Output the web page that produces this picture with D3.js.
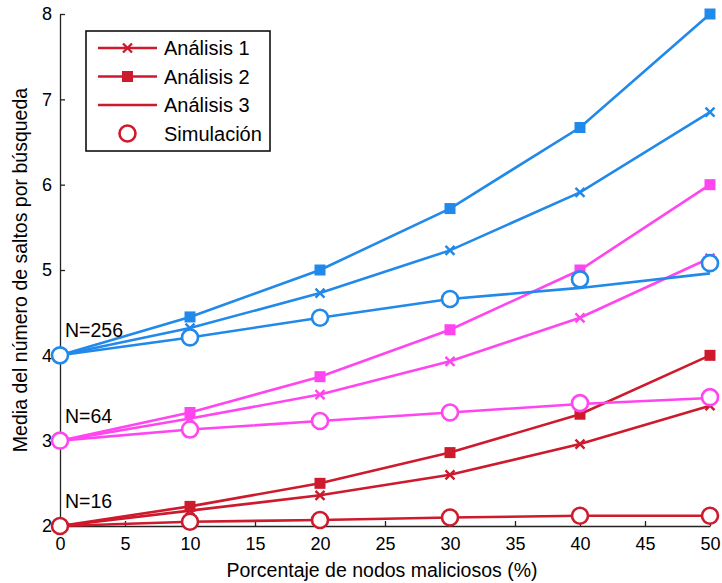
<!DOCTYPE html>
<html><head><meta charset="utf-8">
<script src="https://cdn.jsdelivr.net/npm/d3@7"></script>
<style>body{margin:0;background:#fff}text{font-family:"Liberation Sans",Arial,sans-serif;fill:#000}</style>
</head><body><svg id="c" width="722" height="583"></svg>
<script>
const xVals = [0, 10, 20, 30, 40, 50];
const xTicks = [0, 5, 10, 15, 20, 25, 30, 35, 40, 45, 50];
const yTicks = [2, 3, 4, 5, 6, 7, 8];
const groupNames = ["N=16", "N=64", "N=256"];
const groupColors = ["#cd1a2c", "#ff45f0", "#2189ea"];
const seriesNames = ["Análisis 1", "Análisis 2", "Análisis 3", "Simulación"];

const a1_16  = [2, 2.18, 2.36, 2.60, 2.96, 3.41];
const a2_16  = [2, 2.23, 2.50, 2.86, 3.31, 4.00];
const a3_16  = [2, 2.05, 2.07, 2.10, 2.12, 2.12];
const sim_16 = [2, 2.05, 2.07, 2.10, 2.12, 2.12];

const a1_64  = [3, 3.26, 3.54, 3.93, 4.44, 5.14];
const a2_64  = [3, 3.33, 3.75, 4.30, 5.00, 6.00];
const a3_64  = [3, 3.13, 3.23, 3.33, 3.43, 3.50];
const sim_64 = [3, 3.13, 3.23, 3.33, 3.44, 3.51];

const a1_256  = [4, 4.32, 4.73, 5.23, 5.91, 6.85];
const a2_256  = [4, 4.45, 5.00, 5.72, 6.67, 8.00];
const a3_256  = [4, 4.21, 4.44, 4.66, 4.79, 4.96];
const sim_256 = [4, 4.21, 4.44, 4.66, 4.89, 5.08];

const groups = [
  {name: groupNames[0], color: groupColors[0], a1: a1_16, a2: a2_16, a3: a3_16, sim: sim_16},
  {name: groupNames[1], color: groupColors[1], a1: a1_64, a2: a2_64, a3: a3_64, sim: sim_64},
  {name: groupNames[2], color: groupColors[2], a1: a1_256, a2: a2_256, a3: a3_256, sim: sim_256}
];

const svg = d3.select("#c");
const L = 60, R = 710, T = 14, B = 526;
const x = d3.scaleLinear().domain([0, 50]).range([L, R]);
const y = d3.scaleLinear().domain([2, 8]).range([B, T]);

// axes
const xAxis = d3.axisBottom(x).tickValues(xTicks).tickFormat(d3.format("d")).tickSizeInner(-5).tickSizeOuter(0).tickPadding(11);
const yAxis = d3.axisLeft(y).tickValues(yTicks).tickFormat(d3.format("d")).tickSizeInner(-5).tickSizeOuter(0).tickPadding(8);
const gx = svg.append("g").attr("transform", `translate(0,${B})`).call(xAxis);
const gy = svg.append("g").attr("transform", `translate(${L},0)`).call(yAxis);
[gx, gy].forEach(g => {
  g.selectAll("path,line").attr("stroke", "#222").attr("stroke-width", 1.3);
  g.selectAll("text").style("font-size", "18px").style("font-family", '"Liberation Sans",Arial,sans-serif').attr("fill", "#000");
});

svg.append("text").attr("x", 382).attr("y", 577).attr("text-anchor", "middle")
  .style("font-size", "19.5px").text("Porcentaje de nodos maliciosos (%)");
svg.append("text").attr("transform", `translate(27,270) rotate(-90)`).attr("text-anchor", "middle")
  .style("font-size", "19.5px").text("Media del número de saltos por búsqueda");

const line = d3.line().x((d, i) => x(xVals[i])).y(d => y(d));
const lw = 2.6;

function xMark(g, cx, cy, color, s) {
  g.append("path").attr("d", `M${cx - s},${cy - s}L${cx + s},${cy + s}M${cx - s},${cy + s}L${cx + s},${cy - s}`)
    .attr("stroke", color).attr("stroke-width", 2.4).attr("fill", "none");
}

groups.forEach(gr => {
  const g = svg.append("g");
  g.append("path").datum(gr.a1).attr("d", line).attr("fill", "none").attr("stroke", gr.color).attr("stroke-width", lw);
  g.append("path").datum(gr.a2).attr("d", line).attr("fill", "none").attr("stroke", gr.color).attr("stroke-width", lw);
  g.append("path").datum(gr.a3).attr("d", line).attr("fill", "none").attr("stroke", gr.color).attr("stroke-width", lw);
  gr.a1.forEach((v, i) => xMark(g, x(xVals[i]), y(v), gr.color, 4.5));
  g.selectAll(null).data(gr.a2).enter().append("rect")
    .attr("x", (d, i) => x(xVals[i]) - 5.5).attr("y", d => y(d) - 5.5)
    .attr("width", 11).attr("height", 11).attr("fill", gr.color);
  g.selectAll(null).data(gr.sim).enter().append("circle")
    .attr("cx", (d, i) => x(xVals[i])).attr("cy", d => y(d)).attr("r", 8)
    .attr("fill", "#fff").attr("stroke", gr.color).attr("stroke-width", 2.6);
});

// group labels
const labelPos = [2, 3, 4];
groups.forEach((gr, i) => {
  svg.append("text").attr("x", x(0) + 5).attr("y", y(labelPos[i]) - 18)
    .style("font-size", "19.5px").text(gr.name);
});

// legend
const leg = svg.append("g");
leg.append("rect").attr("x", 86).attr("y", 31).attr("width", 184).attr("height", 120)
  .attr("fill", "#fff").attr("stroke", "#000").attr("stroke-width", 1.5);
const lc = groupColors[0];
const rows = [48, 76.5, 105, 133.5];
seriesNames.forEach((nm, i) => {
  const ry = rows[i];
  if (i < 3) leg.append("line").attr("x1", 98).attr("x2", 157).attr("y1", ry).attr("y2", ry)
    .attr("stroke", lc).attr("stroke-width", lw);
  if (i === 0) xMark(leg, 127.5, ry, lc, 4.5);
  if (i === 1) leg.append("rect").attr("x", 122).attr("y", ry - 5.5).attr("width", 11).attr("height", 11).attr("fill", lc);
  if (i === 3) leg.append("circle").attr("cx", 127.5).attr("cy", ry).attr("r", 8).attr("fill", "#fff").attr("stroke", lc).attr("stroke-width", 2.6);
  leg.append("text").attr("x", 164).attr("y", ry + 7).style("font-size", "20px").text(nm);
});
</script></body></html>
